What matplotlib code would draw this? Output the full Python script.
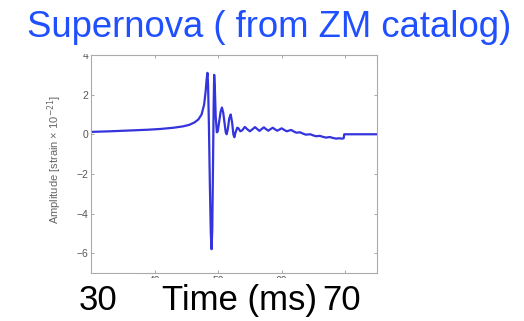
import matplotlib
matplotlib.use("Agg")
import matplotlib.pyplot as plt
from matplotlib.patches import Rectangle

# waveform samples: time (ms) and amplitude (strain x 1e-21)
time_ms = [30.0, 33.0, 36.0, 39.0, 41.0, 43.0, 44.5, 45.5, 46.3, 46.9, 47.4,
           47.8, 48.05, 48.2, 48.33, 48.42, 48.55, 48.7, 48.85, 48.97, 49.08,
           49.2, 49.3, 49.38, 49.48, 49.62, 49.8, 49.95, 50.15, 50.4, 50.6,
           50.8, 51.0, 51.2, 51.35, 51.55, 51.75, 51.98, 52.2, 52.4, 52.55,
           52.75, 53.0, 53.2, 53.5, 53.8, 54.2, 54.6, 55.0, 55.4, 55.8, 56.1,
           56.5, 56.8, 57.2, 57.5, 57.9, 58.2, 58.6, 58.9, 59.3, 59.6, 60.0,
           60.4, 60.8, 61.1, 61.5, 61.9, 62.3, 62.6, 62.9, 63.3, 63.8, 64.1,
           64.5, 65.0, 65.4, 65.7, 66.0, 66.5, 67.0, 67.3, 67.6, 68.1, 68.6,
           69.0, 69.5, 69.76, 69.84, 75.0]
amplitude = [0.12, 0.15, 0.19, 0.23, 0.27, 0.33, 0.4, 0.48, 0.6, 0.75, 1.0,
             1.5, 2.2, 2.8, 3.1, 2.5, 0.5, -2.5, -5.0, -5.8, -4.8,
             -1.5, 1.5, 3.0, 2.4, 0.9, 0.1, 0.15, 0.6, 1.15, 1.35,
             1.1, 0.6, 0.1, 0.0, 0.3, 0.8, 1.0, 0.6, 0.0, -0.15,
             0.1, 0.33, 0.3, 0.15, 0.2, 0.37, 0.25, 0.15, 0.25, 0.36, 0.28,
             0.17, 0.25, 0.35, 0.27, 0.18, 0.25, 0.33, 0.26, 0.18, 0.23, 0.3,
             0.22, 0.15, 0.18, 0.22, 0.14, 0.08, 0.09, 0.1, 0.04, -0.02, -0.01,
             0.0, -0.06, -0.1, -0.09, -0.08, -0.13, -0.17, -0.15, -0.14, -0.19, -0.22,
             -0.2, -0.22, -0.2, 0.0, 0.0]

xticks = [30, 40, 50, 60, 70]
xtick_labels = ["", "40", "50", "60", ""]
yticks = [-6, -4, -2, 0, 2, 4]

plt.rcParams["font.family"] = ["Liberation Sans", "DejaVu Sans"]

fig = plt.figure(figsize=(5.24, 3.21), dpi=100)
ax = fig.add_axes([91 / 524, 1 - 273 / 321, 286 / 524, 218 / 321])

ax.plot(time_ms, amplitude, color="#3434dc", lw=1.6, solid_joinstyle="round")
ax.set_xlim(30, 75)
ax.set_ylim(-7, 4)
ax.set_xticks(xticks)
ax.set_xticklabels(xtick_labels)
ax.set_yticks(yticks)
ax.set_yticklabels([str(v).replace("-", "\u2212") for v in yticks])
ax.tick_params(direction="in", length=2.5, width=0.6, colors="#999999",
               labelcolor="#555555", labelsize=7.5, top=True, right=True, pad=2)
for sp in ax.spines.values():
    sp.set_color("#aaaaaa")
    sp.set_linewidth(0.8)

ax.set_ylabel("Amplitude [strain \u00d7 10$^{-21}$]", fontsize=8, color="#666666")
ax.yaxis.set_label_coords(-0.095, 0.52)

# white boxes behind the big labels
W, H = 524, 321
def cover(x0, y0, x1, y1):
    fig.patches.append(Rectangle((x0 / W, 1 - y1 / H), (x1 - x0) / W, (y1 - y0) / H,
                                 transform=fig.transFigure, facecolor="white",
                                 edgecolor="none", zorder=5))
cover(55, 274, 137, 321)
cover(137, 278, 332, 321)
cover(70, 40, 100, 53.5)

fig.text(269 / W, 1 - 37 / H, "Supernova ( from ZM catalog)", fontsize=26.3,
         color="#1f4fff", ha="center", va="baseline", zorder=6)
fig.text(98 / W, 1 - 310 / H, "30", fontsize=25, color="black",
         ha="center", va="baseline", zorder=6)
fig.text(240 / W, 1 - 310 / H, "Time (ms)", fontsize=25, color="black",
         ha="center", va="baseline", zorder=6)
fig.text(342 / W, 1 - 310 / H, "70", fontsize=25, color="black",
         ha="center", va="baseline", zorder=6)

fig.savefig("out.png", dpi=100)
